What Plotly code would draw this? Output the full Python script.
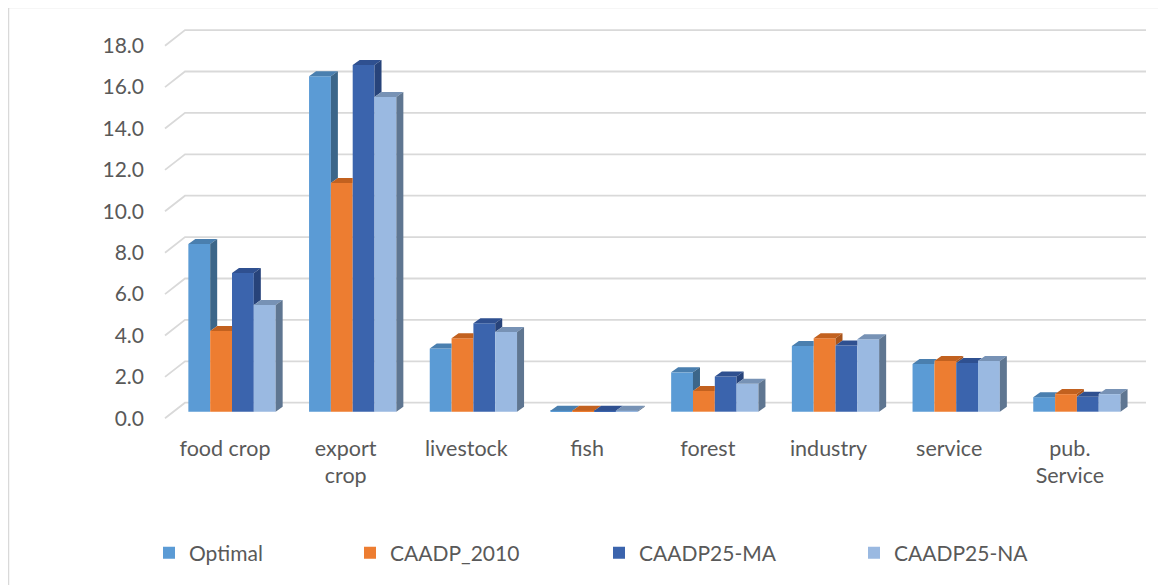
import plotly.graph_objects as go

# ---------------- data ----------------
categories = ["food crop", "export crop", "livestock", "fish", "forest", "industry", "service", "pub. Service"]
tick_labels = ["food crop", "export<br>crop", "livestock", "fish", "forest", "industry", "service", "pub.<br>Service"]
series_names = ["Optimal", "CAADP_2010", "CAADP25-MA", "CAADP25-NA"]
optimal = [8.1, 16.2, 3.05, 0.05, 1.9, 3.17, 2.3, 0.7]
caadp_2010 = [3.9, 11.05, 3.55, 0.05, 1.0, 3.55, 2.45, 0.85]
caadp25_ma = [6.7, 16.75, 4.27, 0.05, 1.7, 3.2, 2.35, 0.72]
caadp25_na = [5.15, 15.2, 3.85, 0.05, 1.35, 3.5, 2.45, 0.85]
y_ticks = [0, 2, 4, 6, 8, 10, 12, 14, 16, 18]

series_values = [optimal, caadp_2010, caadp25_ma, caadp25_na]

# ---------------- style ----------------
front_colors = ["#5B9BD5", "#ED7D31", "#3B64AD", "#9AB9E1"]
top_colors = ["#4A7FAF", "#C2611F", "#2F5090", "#7792B5"]
side_colors = ["#3C6689", "#A9541B", "#27437A", "#5F7691"]
TEXT = "#595959"
GRID = "#D9D9D9"
FONT = "Lato, Open Sans, sans-serif"

OFF = 8  # page body margin

# pseudo-3D geometry (category units on x, value units on y)
PX_X = 120.7          # px per category
PX_Y = 20.7           # px per value unit
BAR_W = 0.1808
OFFSETS = [(-1.5 + j) * BAR_W for j in range(4)]
DX, DY = 7 / PX_X, 5 / PX_Y              # bar depth
BACK_DX, BACK_DY = 13 / PX_X, 9 / PX_Y   # back wall relative to bar fronts
FRONT_DX, FRONT_DY = -7 / PX_X, -6.6 / PX_Y
WALL_LEFT = (185 - 232) / PX_X
WALL_RIGHT = (1146 - 232) / PX_X
FRONT_LEFT = (165 - 232) / PX_X
SLOPE = DY / DX

fig = go.Figure()


def top_poly(xl, xr, v, vnext):
    pts = [(xl, v), (xl + DX, v + DY)]
    if vnext is None or vnext <= v:
        pts += [(xr + DX, v + DY), (xr, v)]
    elif vnext >= v + DY:
        pts += [(xr, v + DY), (xr, v)]
    else:
        pts += [(xr + (v + DY - vnext) / SLOPE, v + DY), (xr, vnext), (xr, v)]
    return pts


def side_poly(xr, v, vnext):
    lo = 0 if vnext is None else max(0, vnext)
    if v <= lo:
        return []
    return [(xr, lo), (xr + DX, lo + DY), (xr + DX, v + DY), (xr, v)]


for j, (name, vals) in enumerate(zip(series_names, series_values)):
    xs = [i + OFFSETS[j] for i in range(len(categories))]
    fig.add_trace(go.Bar(
        x=xs, y=vals, width=BAR_W, name=name,
        marker=dict(color=front_colors[j], line=dict(width=0)),
        legend="legend" if j == 0 else f"legend{j + 1}",
        customdata=categories,
        hovertemplate="%{customdata}: %{y:.1f}<extra>" + name + "</extra>",
    ))
    tx, ty, sx, sy = [], [], [], []
    for i, v in enumerate(vals):
        xl = xs[i] - BAR_W / 2
        xr = xs[i] + BAR_W / 2
        vnext = series_values[j + 1][i] if j < 3 else None
        for (px, py) in top_poly(xl, xr, v, vnext):
            tx.append(px); ty.append(py)
        tx.append(None); ty.append(None)
        sp = side_poly(xr, v, vnext)
        for (px, py) in sp:
            sx.append(px); sy.append(py)
        if sp:
            sx.append(None); sy.append(None)
    fig.add_trace(go.Scatter(x=tx, y=ty, mode="lines", fill="toself", fillcolor=top_colors[j],
                             line=dict(width=0), showlegend=False, hoverinfo="skip"))
    fig.add_trace(go.Scatter(x=sx, y=sy, mode="lines", fill="toself", fillcolor=side_colors[j],
                             line=dict(width=0), showlegend=False, hoverinfo="skip"))

# back-wall gridlines with side-wall diagonals
shapes = []
for t in y_ticks:
    path = (f"M {FRONT_LEFT},{t + FRONT_DY} L {WALL_LEFT},{t + BACK_DY} "
            f"L {WALL_RIGHT},{t + BACK_DY}")
    shapes.append(dict(type="path", path=path, xref="x", yref="y", layer="below",
                       line=dict(color=GRID, width=1.8)))

# figure geometry (page coords minus body margin)
W, H = 1166 - OFF, 585 - OFF
L, T = 150 - OFF, 20 - OFF
R = W - (1150 - OFF)
B = H - (425 - OFF)
pw, ph = W - L - R, H - T - B

# chart border (page x=8, y=7)
shapes.append(dict(type="rect", xref="paper", yref="paper",
                   x0=(8.6 - OFF - L) / pw, x1=(1200 - OFF - L) / pw,
                   y0=(H - B - 620) / ph, y1=(H - B - (7.6 - OFF + 0.0)) / ph,
                   line=dict(color=GRID, width=1.3), layer="below"))

x_min = (150 - 232) / PX_X
x_max = (1150 - 232) / PX_X
y_max = (411.7 - 20) / PX_Y
y_min = (411.7 - 425) / PX_Y

legend_common = dict(orientation="h", yanchor="middle", xanchor="left",
                     font=dict(family=FONT, size=21, color=TEXT),
                     bgcolor="rgba(0,0,0,0)", borderwidth=0)
legend_text_px = [190, 391, 640, 895]
legends = {}
for j, px in enumerate(legend_text_px):
    key = "legend" if j == 0 else f"legend{j + 1}"
    legends[key] = dict(legend_common, x=(px - 41 - 150) / pw, y=(425 - 553) / ph)

fig.update_layout(
    width=W, height=H,
    margin=dict(l=L, r=R, t=T, b=B),
    paper_bgcolor="white", plot_bgcolor="white",
    barmode="overlay",
    showlegend=True,
    shapes=shapes,
    font=dict(family=FONT, color=TEXT),
    xaxis=dict(range=[x_min, x_max], showgrid=False, zeroline=False, showline=False,
               tickmode="array", tickvals=[i + FRONT_DX for i in range(len(categories))],
               ticktext=tick_labels, ticks="", tickfont=dict(family=FONT, size=21.5, color=TEXT),
               ticklabelstandoff=8, fixedrange=True),
    yaxis=dict(range=[y_min, y_max], showgrid=False, zeroline=False, showline=False,
               tickmode="array", tickvals=[t + FRONT_DY for t in y_ticks],
               ticktext=[f"{t:.1f}" for t in y_ticks], ticks="",
               tickfont=dict(family=FONT, size=21, color=TEXT),
               ticklabelstandoff=5, fixedrange=True),
    **legends,
)

fig.write_html("out.html")
